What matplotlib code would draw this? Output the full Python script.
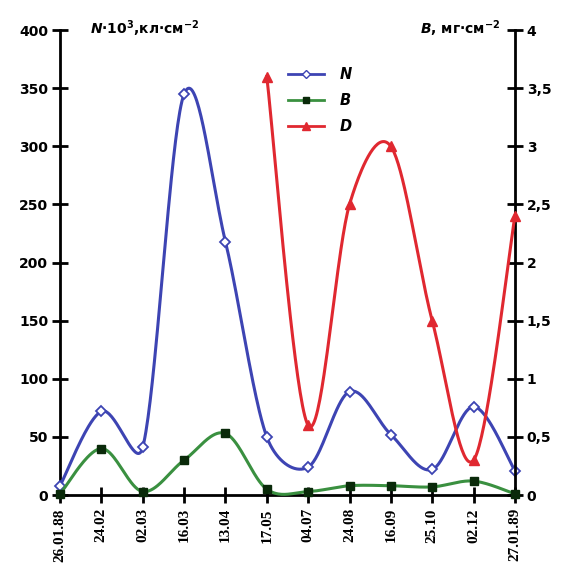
import numpy as np
import matplotlib
matplotlib.use("Agg")
import matplotlib.pyplot as plt
from matplotlib.lines import Line2D

dates = ["26.01.88", "24.02", "02.03", "16.03", "13.04", "17.05",
         "04.07", "24.08", "16.09", "25.10", "02.12", "27.01.89"]
N_vals = [8, 72, 41, 345, 218, 50, 24, 89, 52, 22, 76, 21]
B_vals = [0.01, 0.40, 0.03, 0.30, 0.53, 0.05, 0.03, 0.08, 0.08, 0.07, 0.12, 0.01]
D_start = 5
D_vals = [3.6, 0.6, 2.5, 3.0, 1.5, 0.3, 2.4]
left_ticks = [0, 50, 100, 150, 200, 250, 300, 350, 400]
right_ticks = [0, 0.5, 1, 1.5, 2, 2.5, 3, 3.5, 4]
right_labels = ["0", "0,5", "1", "1,5", "2", "2,5", "3", "3,5", "4"]

plt.rcParams['mathtext.fontset'] = 'custom'
plt.rcParams['mathtext.rm'] = 'DejaVu Sans:bold'
plt.rcParams['mathtext.it'] = 'DejaVu Sans:bold:italic'
plt.rcParams['mathtext.bf'] = 'DejaVu Sans:bold'


def smooth(x, y, sx, sy, n=40):
    """Excel-like smoothed line: Bezier segments with 1/6 tangent control
    points, clamped to half the adjacent chord (in screen units)."""
    P = np.column_stack([np.asarray(x, float) * sx, np.asarray(y, float) * sy])
    m = len(P)
    before = P.copy()
    after = P.copy()
    for i in range(m):
        p_prev = P[i - 1] if i > 0 else P[i]
        p_next = P[i + 1] if i < m - 1 else P[i]
        T = (p_next - p_prev) / 6.0
        L = np.hypot(*T)
        if L == 0:
            continue
        u = T / L
        if i > 0:
            d0 = np.hypot(*(P[i] - P[i - 1]))
            before[i] = P[i] - u * min(L, d0 / 2.0)
        if i < m - 1:
            d1 = np.hypot(*(P[i + 1] - P[i]))
            after[i] = P[i] + u * min(L, d1 / 2.0)
    out = []
    t = np.linspace(0, 1, n)[:, None]
    for i in range(m - 1):
        p1, c1, c2, p2 = P[i], after[i], before[i + 1], P[i + 1]
        seg = ((1 - t) ** 3) * p1 + 3 * ((1 - t) ** 2) * t * c1 + 3 * (1 - t) * t ** 2 * c2 + t ** 3 * p2
        out.append(seg if i == 0 else seg[1:])
    S = np.vstack(out)
    return S[:, 0] / sx, S[:, 1] / sy


cN = "#3d44b3"
cB = "#3a9040"
cD = "#e02830"

fig = plt.figure(figsize=(5.63, 5.69), dpi=100)
ax = fig.add_axes([0.1066, 0.130, 0.808, 0.817])
ax2 = ax.twinx()

px_x = 455 / 11.0
px_left = 465 / 400.0
px_right = 465 / 4.0

x = np.arange(len(dates))
xs, ys = smooth(x, N_vals, px_x, px_left)
ax.plot(xs, ys, color=cN, lw=2.2, clip_on=False, zorder=3)
ax.plot(x, N_vals, ls='none', marker='D', ms=5, mfc='white', mec=cN, mew=1.3, clip_on=False, zorder=4)

xs, ys = smooth(x, B_vals, px_x, px_right)
ax2.plot(xs, ys, color=cB, lw=2.2, clip_on=False, zorder=3)
ax2.plot(x, B_vals, ls='none', marker='s', ms=5.5, mfc='#0a2a0a', mec='#0a2a0a', clip_on=False, zorder=4)

xd = x[D_start:]
xs, ys = smooth(xd, D_vals, px_x, px_right)
ax2.plot(xs, ys, color=cD, lw=2.2, clip_on=False, zorder=3)
ax2.plot(xd, D_vals, ls='none', marker='^', ms=6.5, mfc=cD, mec=cD, clip_on=False, zorder=4)

ax.set_xlim(0, 11)
ax.set_ylim(0, 400)
ax2.set_ylim(0, 4)

for a in (ax, ax2):
    a.spines['top'].set_visible(False)
    for s in ('left', 'right', 'bottom'):
        a.spines[s].set_linewidth(2.0)
        a.spines[s].set_color('black')
ax.spines['right'].set_visible(False)
ax2.spines['left'].set_visible(False)
ax2.spines['bottom'].set_visible(False)

ax.set_yticks(left_ticks)
ax.set_yticklabels([str(v) for v in left_ticks], fontfamily='DejaVu Sans', fontweight='bold', fontsize=10)
ax2.set_yticks(right_ticks)
ax2.set_yticklabels(right_labels, fontfamily='DejaVu Sans', fontweight='bold', fontsize=10)
ax.tick_params(axis='y', direction='inout', length=11, width=2, pad=3)
ax2.tick_params(axis='y', direction='inout', length=11, width=2, pad=3)

ax.set_xticks(x)
ax.set_xticklabels(dates, rotation=90, fontfamily='Liberation Serif', fontweight='bold', fontsize=11)
ax.tick_params(axis='x', direction='inout', length=11, width=2, pad=4)

fig.text(0.160, 0.950, r"$\mathit{N}$·10$^{3}$,кл·см$^{-2}$", fontsize=10,
         fontfamily='DejaVu Sans', fontweight='bold', ha='left', va='center')
fig.text(0.889, 0.950, r"$\mathit{B}$, мг·см$^{-2}$", fontsize=10,
         fontfamily='DejaVu Sans', fontweight='bold', ha='right', va='center')

handles = [
    Line2D([], [], color=cN, lw=2, marker='D', ms=4.5, mfc='white', mec=cN),
    Line2D([], [], color=cB, lw=2, marker='s', ms=5, mfc='#0a2a0a', mec='#0a2a0a'),
    Line2D([], [], color=cD, lw=2, marker='^', ms=5.5, mfc=cD, mec=cD),
]
leg = ax.legend(handles, ["N", "B", "D"], loc='upper left', bbox_to_anchor=(0.472, 0.949),
                frameon=False, handlelength=2.5, handletextpad=1.05, labelspacing=0.75,
                prop={'family': 'DejaVu Sans', 'weight': 'bold', 'style': 'italic', 'size': 10.5})

fig.savefig("out.png", dpi=100)
